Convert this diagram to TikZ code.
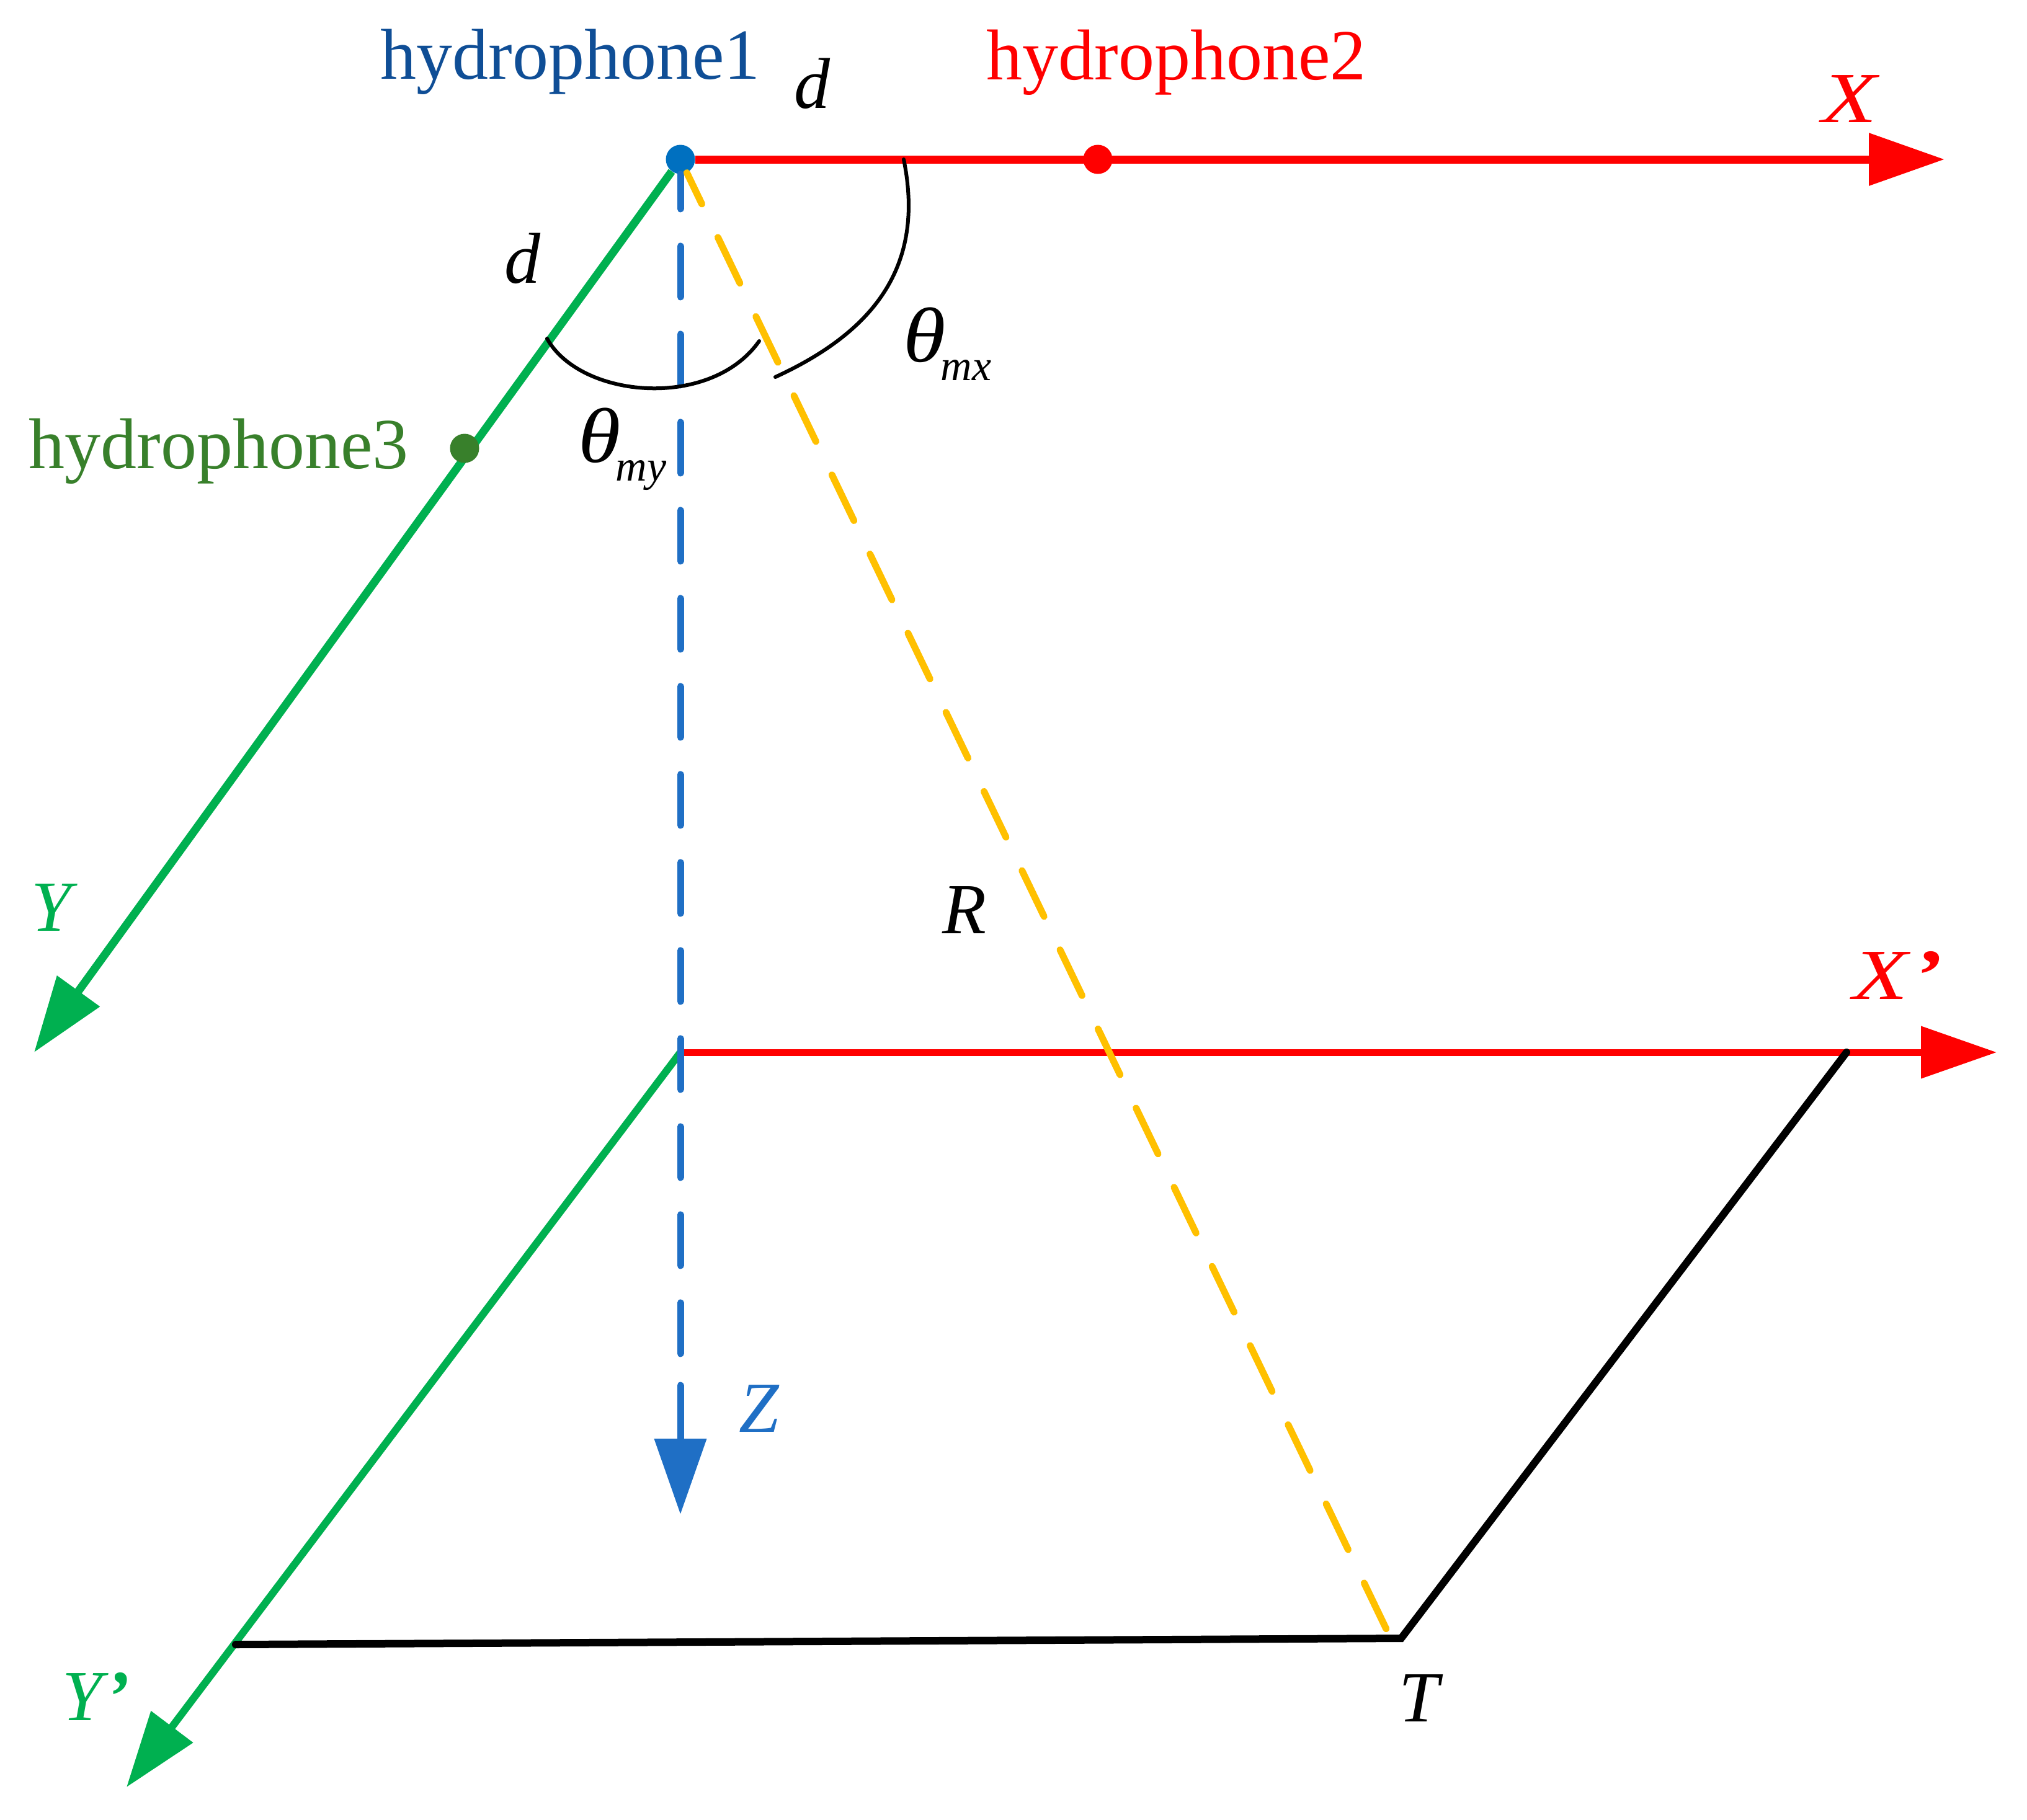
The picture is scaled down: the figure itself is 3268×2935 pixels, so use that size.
\documentclass[tikz,border=0pt]{standalone}
\usepackage{fontspec}
\usepackage{graphicx}
\setmainfont{Liberation Serif}
\usetikzlibrary{arrows.meta}

\definecolor{hblue}{HTML}{0F4E96}
\definecolor{hgreen}{HTML}{38802B}
\definecolor{dotblue}{HTML}{0070C0}
\definecolor{axgreen}{HTML}{00B050}
\definecolor{axblue}{HTML}{1F6FC5}
\definecolor{axyellow}{HTML}{FFC000}

\newcommand{\angsub}[1]{\scalebox{1.2}[1.08]{\textit{θ}}\hspace{-4pt}\raisebox{-15pt}{\fontsize{35}{35}\selectfont\textit{#1}}}

\tikzset{
  lab/.style={anchor=base west,inner sep=0pt,font=\fontsize{58}{60}\selectfont},
  mlab/.style={lab,font=\fontsize{58}{60}\selectfont\itshape},
  hdot/.style={circle,inner sep=0pt,minimum size=23.5pt},
  axis/.style={line width=#1,-{Triangle[length=61pt,width=41pt]}},
  dashline/.style={line width=5.5pt,line cap=round,dash pattern=on 41pt off 30pt,dash phase=13pt}
}

\begin{document}
\begin{tikzpicture}[x=.5pt,y=-.5pt]
\useasboundingbox (0,0) rectangle (3268,2935);

\node[hdot,fill=dotblue] (hone) at (1097,257) {};

\coordinate (xtip) at (3135,257);
\coordinate (ytip) at (55,1697);
\coordinate (zroot) at (1097,1697);
\coordinate (zdash) at (1097,2320);
\coordinate (zstub) at (1097,2234);
\coordinate (ztip) at (1097,2442);
\coordinate (xptip) at (3219,1697);
\coordinate (yptip) at (204,2882);
\coordinate (tgt) at (2259,2642);
\coordinate (xpfoot) at (2977,1697);
\coordinate (ypfoot) at (380,2652);
\coordinate (rend) at (2246,2650);

% axes
\draw[axis=6.5pt,red] (hone) -- (xtip);
\draw[axis=6.5pt,axgreen] (hone) -- (ytip);
\draw[axis=5.5pt,red] (zroot) -- (xptip);
\draw[axis=6pt,axgreen] (zroot) -- (yptip);

% dashed ones
\draw[dashline,axblue] (hone) -- (zdash);
\draw[axis=5.5pt,axblue,line cap=round] (zstub) -- (ztip);
\draw[dashline,axyellow,dash pattern=on 41pt off 29.8pt] (hone) -- (rend);

% ground plane
\begin{scope}[black,line width=6pt,line cap=round]
\draw (ypfoot) -- (tgt) -- (xpfoot);
\end{scope}

% angles
\draw[line width=3pt,line cap=round] (882,546) .. controls (935,642) and (1145,662) .. (1224,550);
\draw[line width=3pt,line cap=round] (1457,257) .. controls (1490,420) and (1420,530) .. (1250,608);

\node[hdot,fill=red] (htwo) at (1770,257) {};
\node[hdot,fill=hgreen] (hthree) at (749,723) {};

\node[lab,text=hblue] (honelab) at (613,127) {hydrophone1};
\node[lab,text=red] (htwolab) at (1590,128) {hydrophone2};
\node[lab,text=hgreen] (hthreelab) at (46,755) {hydrophone3};

\node[mlab] (dx) at (1280,174) {d};
\node[mlab] (dy) at (813,456) {d};
\node[lab] (tx) at (1456,583) {\angsub{mx}};
\node[lab] (ty) at (932,745) {\angsub{my}};

\node[mlab,text=red,xscale=1.25] (xlab) at (2937,197) {X};
\node[mlab,text=red,xscale=1.25] (xplab) at (2987,1611) {X\hspace{3pt}\textbf{’}};
\node[mlab,text=axgreen] (ylab) at (50,1501) {Y};
\node[mlab,text=axgreen] (yplab) at (100,2774) {Y\hspace{3pt}\textbf{’}};
\node[mlab,text=axblue] (zlab) at (1191,2309) {Z};
\node[mlab] (rlab) at (1519,1505) {R};
\node[mlab] (tlab) at (2255,2776) {T};

\end{tikzpicture}
\end{document}
